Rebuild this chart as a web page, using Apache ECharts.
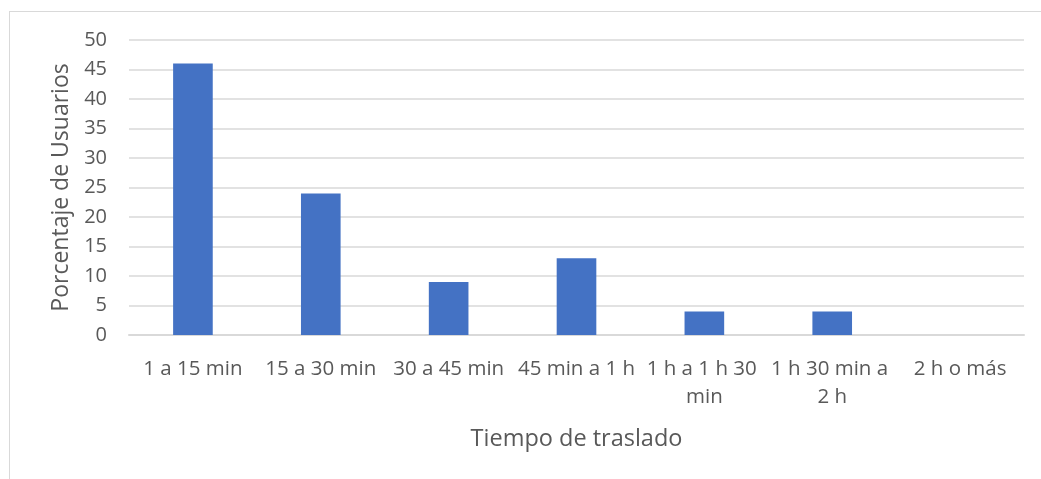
<!DOCTYPE html>
<html>
<head>
<meta charset="utf-8">
<script src="https://cdn.jsdelivr.net/npm/echarts@6/dist/echarts.min.js"></script>
<style>
  html, body { margin: 0; padding: 0; background: #fff; }
  #frame { position: absolute; left: 9px; top: 11px; width: 1040px; height: 480px; border: 1px solid #d9d9d9; box-sizing: border-box; }
  #chart { position: absolute; left: 0; top: 0; width: 1041px; height: 479px; }
</style>
</head>
<body>
<div id="frame"></div>
<div id="chart"></div>
<script>
// Travel-time categories and share of users (%)
const categories = ['1 a 15 min', '15 a 30 min', '30 a 45 min', '45 min a 1 h', '1 h a 1 h 30 min', '1 h 30 min a 2 h', '2 h o más'];
const percentages = [46, 24, 9, 13, 4, 4, 0];
const yTicks = [0, 5, 10, 15, 20, 25, 30, 35, 40, 45, 50];

const textColor = '#595959';
const font = '"Open Sans", "Liberation Sans", sans-serif';

const chart = echarts.init(document.getElementById('chart'), null, { renderer: 'canvas' });
chart.setOption({
  animation: false,
  grid: { left: 129, right: 17, top: 40, bottom: 144 },
  xAxis: {
    type: 'category',
    data: categories,
    name: 'Tiempo de traslado',
    nameLocation: 'middle',
    nameGap: 92,
    nameTextStyle: { color: textColor, fontSize: 23.5, fontFamily: font },
    axisLine: { lineStyle: { color: '#d9d9d9', width: 2 } },
    axisTick: { show: false },
    axisLabel: {
      color: textColor, fontSize: 20.5, fontFamily: font, margin: 20,
      interval: 0, width: 126, overflow: 'break', lineHeight: 28
    }
  },
  yAxis: {
    type: 'value',
    min: yTicks[0],
    max: yTicks[yTicks.length - 1],
    interval: yTicks[1] - yTicks[0],
    name: 'Porcentaje de Usuarios',
    nameLocation: 'middle',
    nameGap: 55,
    nameTextStyle: { color: textColor, fontSize: 23, fontFamily: font },
    axisLine: { show: false },
    axisTick: { show: false },
    axisLabel: { color: textColor, fontSize: 20, fontFamily: font, margin: 22 },
    splitLine: { lineStyle: { color: '#d9d9d9', width: 1.5 } }
  },
  series: [{
    type: 'bar',
    data: percentages,
    barWidth: '31%',
    itemStyle: { color: '#4472c4' }
  }]
});
</script>
</body>
</html>
